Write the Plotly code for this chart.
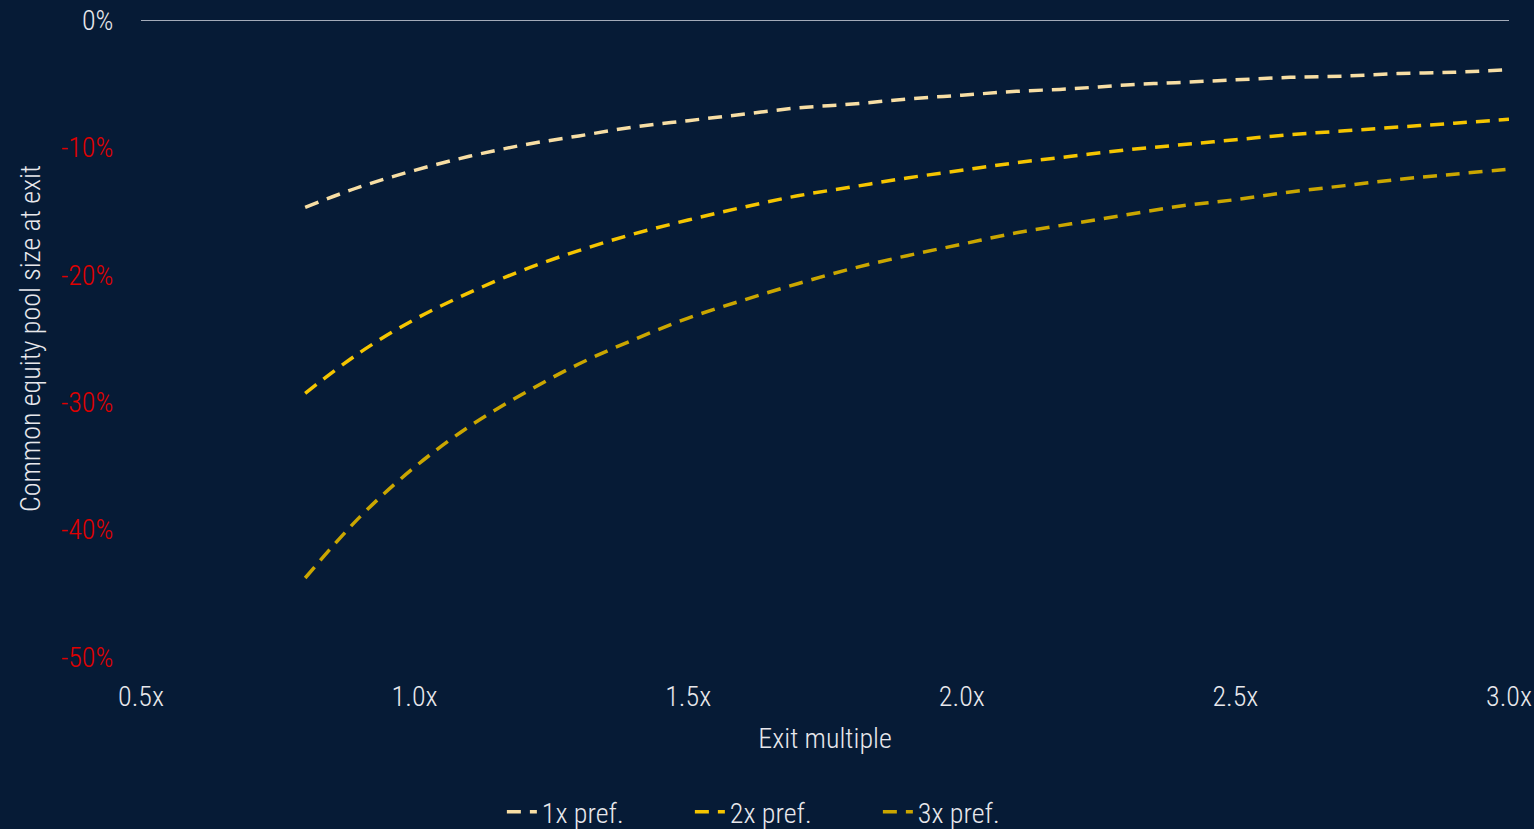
import plotly.graph_objects as go

exit_multiple = [0.8, 0.9, 1.0, 1.1, 1.2, 1.3, 1.4, 1.5, 1.6, 1.7, 1.8, 1.9, 2.0,
                 2.1, 2.2, 2.3, 2.4, 2.5, 2.6, 2.7, 2.8, 2.9, 3.0]
pref_1x = [-14.7, -13.1, -11.8, -10.7, -9.8, -9.1, -8.4, -7.9, -7.4, -6.9, -6.6, -6.2, -5.9,
           -5.6, -5.4, -5.1, -4.9, -4.7, -4.5, -4.4, -4.2, -4.1, -3.9]
pref_2x = [-29.3, -26.1, -23.5, -21.4, -19.6, -18.1, -16.8, -15.7, -14.7, -13.8, -13.1, -12.4, -11.8,
           -11.2, -10.7, -10.2, -9.8, -9.4, -9.0, -8.7, -8.4, -8.1, -7.8]
pref_3x = [-43.8, -39.0, -35.1, -31.9, -29.3, -27.0, -25.1, -23.4, -22.0, -20.7, -19.5, -18.5, -17.6,
           -16.7, -16.0, -15.3, -14.6, -14.1, -13.5, -13.0, -12.5, -12.1, -11.7]

series_names = ["1x pref.", "2x pref.", "3x pref."]
series_values = [pref_1x, pref_2x, pref_3x]
series_colors = ["#f7dea4", "#f5c500", "#caa600"]

y_tick_vals = [0, -10, -20, -30, -40, -50]
x_tick_vals = [0.5, 1.0, 1.5, 2.0, 2.5, 3.0]
x_tick_text = ["0.5x", "1.0x", "1.5x", "2.0x", "2.5x", "3.0x"]

BG = "#061b36"
RED = "#e00000"
TXT = "#e8e8ec"
FONT = "Roboto Condensed, Barlow Semi Condensed, Archivo Narrow, sans-serif"
FS = 28

y_tick_text = []
for v in y_tick_vals:
    if v < 0:
        y_tick_text.append(f"<span style='color:{RED}'>{v}%</span>")
    else:
        y_tick_text.append(f"{v}%")

fig = go.Figure()
for name, vals, col in zip(series_names, series_values, series_colors):
    fig.add_trace(go.Scatter(
        x=exit_multiple, y=vals, name=name, mode="lines",
        line=dict(color=col, width=3.5, dash="14px,9px", shape="spline"),
    ))

fig.add_hline(y=0, line=dict(color="#d9dde6", width=1.5), layer="below")

fnt = dict(family=FONT, size=FS, color=TXT, weight=300)

fig.update_layout(
    width=1534, height=829,
    paper_bgcolor=BG, plot_bgcolor=BG,
    margin=dict(l=141, r=25, t=20, b=172, autoexpand=False),
    font=fnt,
    showlegend=True,
    legend=dict(orientation="h", xref="container", yref="paper",
                x=0.511, xanchor="center", y=-0.2433, yanchor="middle",
                font=fnt, bgcolor="rgba(0,0,0,0)",
                entrywidth=143, entrywidthmode="pixels", tracegroupgap=0),
)
fig.update_xaxes(
    range=[0.5, 3.0], tickvals=x_tick_vals, ticktext=x_tick_text,
    showgrid=False, zeroline=False, showline=False, automargin=False,
    ticklabeloverflow="allow",
    ticks="outside", ticklen=14, tickcolor=BG,
    title=dict(text="Exit multiple", standoff=16, font=fnt),
)
fig.update_yaxes(
    range=[-50, 0], tickvals=y_tick_vals, ticktext=y_tick_text,
    showgrid=False, zeroline=False, showline=False, automargin=False,
    ticklabeloverflow="allow",
    ticks="outside", ticklen=21, tickcolor=BG,
    title=dict(text="Common equity pool size at exit", standoff=12, font=fnt),
)

fig.write_html("out.html")
